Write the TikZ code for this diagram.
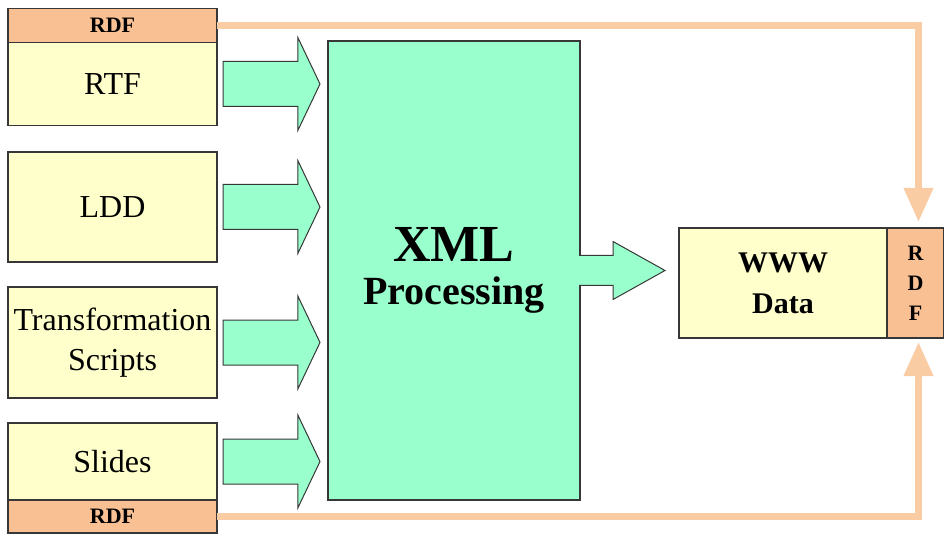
\documentclass[tikz,border=0pt]{standalone}
\usepackage{fontspec}
\setmainfont{Liberation Serif}
\usepackage{xcolor}
\usetikzlibrary{shapes.arrows, arrows.meta, calc, positioning}
\definecolor{cream}{RGB}{255,255,204}
\definecolor{xmlgreen}{RGB}{153,255,204}
\definecolor{rdforange}{RGB}{249,192,148}
\definecolor{rdfline}{RGB}{249,204,164}
\definecolor{edgegray}{RGB}{55,55,55}

\begin{document}
\begin{tikzpicture}[x=1pt,y=-1pt,
	srcbox/.style={rectangle,draw=edgegray,line width=1.2pt,fill=cream,outer sep=0pt,inner sep=0pt,
		minimum width=209pt,align=center,font=\fontsize{32}{40}\selectfont},
	rdfbox/.style={rectangle,draw=edgegray,line width=1.2pt,fill=rdforange,outer sep=0pt,inner sep=0pt,
		align=center,font=\fontsize{22}{30}\selectfont\bfseries},
	xmlbox/.style={rectangle,draw=edgegray,line width=1.2pt,fill=xmlgreen,outer sep=0pt,inner sep=0pt,
		minimum width=252pt,minimum height=459pt,align=center,font=\bfseries\fontsize{40}{43}\selectfont},
	wwwbox/.style={rectangle,draw=edgegray,line width=1.2pt,fill=cream,outer sep=0pt,inner sep=0pt,
		minimum width=208pt,minimum height=110pt,align=center,font=\bfseries\fontsize{30}{41}\selectfont},
	fatarrow/.style={single arrow,draw=edgegray,line width=1pt,fill=xmlgreen,outer sep=0pt,
		minimum height=97pt,inner xsep=0pt,inner ysep=22pt,single arrow head extend=24pt,single arrow tip angle=129},
	flowedge/.style={draw=edgegray,line width=1pt,fill=xmlgreen},
	rdflink/.style={draw=rdfline,line width=7pt,-{Triangle[width=28pt,length=34pt]}}]
	\useasboundingbox (0,0) rectangle (944,534);
	% sources
	\node[srcbox,minimum height=83pt] at (112.5,84) (rtf) {RTF};
	\node[rdfbox,minimum width=209pt,minimum height=34pt,above=0pt of rtf] (rdftop) {RDF};
	\node[srcbox,minimum height=110pt] at (112.5,207) (ldd) {LDD};
	\node[srcbox,minimum height=111pt] at (112.5,342.5) (trans) {Transformation\\Scripts};
	\node[srcbox,minimum height=77pt] at (112.5,461.5) (slides) {Slides};
	\node[rdfbox,minimum width=209pt,minimum height=33pt,below=0pt of slides] (rdfbot) {RDF};
	% processing and output
	\node[xmlbox] at (454,270.5) (xml) {{\fontsize{52}{43}\selectfont XML}\\Processing};
	\node[wwwbox] at (783,283) (www) {WWW\\Data};
	\node[rdfbox,minimum width=57pt,minimum height=110pt,right=0pt of www] (rdfside) {R\\D\\F};
	\foreach \src in {rtf,ldd,trans,slides}
		\node[fatarrow,anchor=tail] at ($(\src.east)+(6,0)$) (\src-arrow) {};
	\draw[flowedge] ($(xml.east)+(-1,-15)$) -- ++(34,0) -- ++(0,-14) -- ++(52,29) -- ++(-52,29) -- ++(0,-14) -- ++(-34,0);
	\draw[rdflink,shorten >=6pt] (rdftop.east) -| ([xshift=3pt]rdfside.north);
	\draw[rdflink,shorten >=4pt] (rdfbot.east) -| ([xshift=3pt]rdfside.south);
\end{tikzpicture}
\end{document}
